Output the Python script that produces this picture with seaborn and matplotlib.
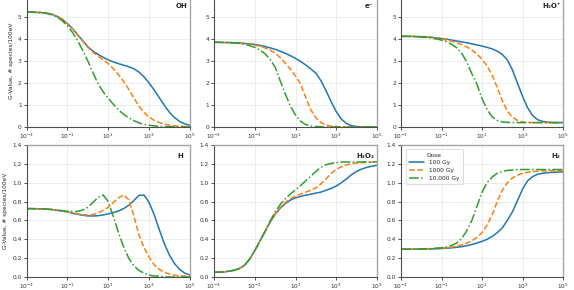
import numpy as np
import pandas as pd
import seaborn as sns
import matplotlib.pyplot as plt

# time grid, log10(seconds), quarter-decade steps
log_t = [-3, -2.75, -2.5, -2.25, -2, -1.75, -1.5, -1.25, -1, -0.75, -0.5, -0.25,
         0, 0.25, 0.5, 0.75, 1, 1.25, 1.5, 1.75, 2, 2.25, 2.5, 2.75,
         3, 3.25, 3.5, 3.75, 4, 4.25, 4.5, 4.75, 5]

doses = ["100 Gy", "1000 Gy", "10,000 Gy"]
species = ["OH", "e⁻", "H₃O⁺", "H", "H₂O₂", "H₂"]

# OH
oh_100 = [5.22, 5.22, 5.21, 5.2, 5.17, 5.12, 5.03, 4.9, 4.7, 4.47, 4.2, 3.92,
          3.65, 3.45, 3.3, 3.17, 3.05, 2.96, 2.88, 2.81, 2.74, 2.65, 2.5, 2.28,
          2.0, 1.68, 1.33, 0.98, 0.66, 0.42, 0.25, 0.14, 0.07]
oh_1000 = [5.22, 5.22, 5.21, 5.2, 5.17, 5.12, 5.03, 4.9, 4.7, 4.46, 4.18, 3.9,
           3.62, 3.4, 3.22, 3.05, 2.88, 2.65, 2.38, 2.07, 1.72, 1.32, 0.95, 0.66,
           0.45, 0.3, 0.2, 0.13, 0.08, 0.05, 0.03, 0.02, 0.01]
oh_10000 = [5.22, 5.22, 5.21, 5.19, 5.16, 5.1, 5.0, 4.83, 4.6, 4.3, 3.93, 3.48,
            3.0, 2.47, 1.97, 1.6, 1.3, 1.03, 0.78, 0.58, 0.42, 0.29, 0.19, 0.12,
            0.08, 0.05, 0.03, 0.02, 0.01, 0.01, 0.0, 0.0, 0.0]

# hydrated electron
e_100 = [3.85, 3.85, 3.84, 3.84, 3.83, 3.82, 3.8, 3.78, 3.75, 3.71, 3.66, 3.6,
         3.53, 3.44, 3.35, 3.24, 3.12, 2.98, 2.82, 2.64, 2.45, 2.1, 1.65, 1.15,
         0.7, 0.36, 0.16, 0.06, 0.02, 0.01, 0.0, 0.0, 0.0]
e_1000 = [3.85, 3.85, 3.84, 3.84, 3.83, 3.81, 3.79, 3.76, 3.72, 3.67, 3.6, 3.5,
          3.36, 3.15, 2.9, 2.63, 2.32, 1.95, 1.35, 0.78, 0.42, 0.2, 0.09, 0.04,
          0.02, 0.01, 0.0, 0.0, 0.0, 0.0, 0.0, 0.0, 0.0]
e_10000 = [3.85, 3.85, 3.84, 3.83, 3.82, 3.8, 3.76, 3.7, 3.62, 3.5, 3.33, 3.08,
           2.72, 2.1, 1.5, 0.95, 0.55, 0.26, 0.11, 0.05, 0.02, 0.01, 0.0, 0.0,
           0.0, 0.0, 0.0, 0.0, 0.0, 0.0, 0.0, 0.0, 0.0]

# H3O+
h3o_100 = [4.12, 4.12, 4.12, 4.11, 4.11, 4.1, 4.08, 4.05, 4.02, 3.99, 3.95, 3.91,
           3.87, 3.83, 3.78, 3.73, 3.68, 3.62, 3.55, 3.45, 3.3, 3.05, 2.6, 2.0,
           1.4, 0.88, 0.52, 0.33, 0.25, 0.22, 0.2, 0.2, 0.2]
h3o_1000 = [4.12, 4.12, 4.12, 4.11, 4.1, 4.09, 4.07, 4.04, 4.0, 3.95, 3.9, 3.83,
            3.75, 3.64, 3.5, 3.32, 3.08, 2.78, 2.35, 1.8, 1.2, 0.72, 0.45, 0.3,
            0.23, 0.21, 0.2, 0.2, 0.2, 0.2, 0.2, 0.2, 0.2]
h3o_10000 = [4.12, 4.12, 4.11, 4.1, 4.09, 4.07, 4.04, 4.0, 3.95, 3.87, 3.76, 3.6,
             3.35, 2.95, 2.42, 1.95, 1.3, 0.8, 0.46, 0.3, 0.23, 0.21, 0.2, 0.2,
             0.2, 0.2, 0.2, 0.2, 0.2, 0.2, 0.2, 0.2, 0.2]

# H
h_100 = [0.725, 0.725, 0.724, 0.722, 0.72, 0.715, 0.708, 0.7, 0.69, 0.677, 0.665, 0.655,
         0.648, 0.647, 0.65, 0.658, 0.67, 0.683, 0.7, 0.725, 0.76, 0.81, 0.865, 0.87,
         0.79, 0.66, 0.5, 0.35, 0.23, 0.14, 0.08, 0.04, 0.02]
h_1000 = [0.725, 0.725, 0.724, 0.722, 0.72, 0.715, 0.708, 0.7, 0.69, 0.68, 0.67, 0.66,
          0.657, 0.663, 0.68, 0.705, 0.74, 0.79, 0.84, 0.87, 0.82, 0.65, 0.45, 0.31,
          0.21, 0.13, 0.08, 0.05, 0.03, 0.02, 0.01, 0.01, 0.0]
h_10000 = [0.725, 0.725, 0.724, 0.722, 0.72, 0.716, 0.71, 0.703, 0.697, 0.694, 0.696, 0.71,
           0.74, 0.79, 0.845, 0.87, 0.8, 0.64, 0.47, 0.32, 0.2, 0.12, 0.07, 0.04,
           0.02, 0.01, 0.01, 0.0, 0.0, 0.0, 0.0, 0.0, 0.0]

# H2O2
h2o2_100 = [0.05, 0.051, 0.055, 0.062, 0.072, 0.09, 0.125, 0.19, 0.28, 0.38, 0.48, 0.58,
            0.665, 0.73, 0.78, 0.815, 0.84, 0.855, 0.868, 0.878, 0.89, 0.9, 0.92, 0.94,
            0.965, 1.0, 1.04, 1.085, 1.12, 1.145, 1.163, 1.175, 1.185]
h2o2_1000 = [0.05, 0.051, 0.055, 0.062, 0.072, 0.09, 0.125, 0.19, 0.28, 0.38, 0.48, 0.58,
             0.67, 0.74, 0.79, 0.83, 0.86, 0.88, 0.9, 0.92, 0.945, 0.99, 1.04, 1.1,
             1.14, 1.17, 1.19, 1.2, 1.21, 1.213, 1.216, 1.218, 1.22]
h2o2_10000 = [0.05, 0.051, 0.055, 0.062, 0.072, 0.09, 0.125, 0.19, 0.28, 0.38, 0.48, 0.59,
              0.69, 0.77, 0.83, 0.88, 0.925, 0.97, 1.02, 1.07, 1.12, 1.165, 1.19, 1.205,
              1.213, 1.218, 1.22, 1.22, 1.22, 1.22, 1.22, 1.22, 1.22]

# H2
h2_100 = [0.295, 0.295, 0.295, 0.295, 0.296, 0.297, 0.298, 0.3, 0.302, 0.305, 0.31, 0.315,
          0.322, 0.332, 0.345, 0.36, 0.378, 0.4, 0.43, 0.47, 0.52, 0.6, 0.69, 0.81,
          0.93, 1.02, 1.065, 1.09, 1.1, 1.107, 1.11, 1.113, 1.115]
h2_1000 = [0.295, 0.295, 0.295, 0.296, 0.297, 0.298, 0.3, 0.302, 0.305, 0.31, 0.317, 0.327,
           0.34, 0.36, 0.385, 0.42, 0.47, 0.55, 0.66, 0.8, 0.92, 1.0, 1.05, 1.08,
           1.1, 1.11, 1.118, 1.122, 1.125, 1.127, 1.128, 1.129, 1.13]
h2_10000 = [0.295, 0.295, 0.296, 0.297, 0.298, 0.3, 0.302, 0.305, 0.31, 0.32, 0.335, 0.36,
            0.41, 0.49, 0.6, 0.75, 0.9, 1.0, 1.06, 1.1, 1.12, 1.13, 1.135, 1.138,
            1.14, 1.14, 1.14, 1.14, 1.14, 1.14, 1.14, 1.14, 1.14]

series = {
    "OH": [oh_100, oh_1000, oh_10000],
    "e⁻": [e_100, e_1000, e_10000],
    "H₃O⁺": [h3o_100, h3o_1000, h3o_10000],
    "H": [h_100, h_1000, h_10000],
    "H₂O₂": [h2o2_100, h2o2_1000, h2o2_10000],
    "H₂": [h2_100, h2_1000, h2_10000],
}

rows = []
for sp in species:
    for dose, vals in zip(doses, series[sp]):
        for lt, v in zip(log_t, vals):
            rows.append((sp, dose, 10.0 ** lt, v))
df = pd.DataFrame(rows, columns=["species", "Dose", "time", "g"])

sns.set_style("whitegrid", {"axes.edgecolor": "0.25", "grid.color": "0.9",
                            "xtick.bottom": True, "ytick.left": True})
plt.rcParams["font.family"] = ["DejaVu Sans"]

palette = dict(zip(doses, ["#1f77b4", "#ff7f0e", "#2ca02c"]))
dashes = dict(zip(doses, ["", (3.7, 1.6), (6.4, 1.6, 1, 1.6)]))

fig = plt.figure(figsize=(5.74, 2.90), dpi=100)
lefts = [26.5 / 574, 214 / 574, 401 / 574]
widths = [163.5 / 574, 163 / 574, 162 / 574]
bottoms = [1 - 127 / 290, 1 - 277 / 290]
h = 132 / 290
label_x = [0.985, 0.975, 0.99, 0.955, 0.985, 0.98]

for i, sp in enumerate(species):
    r, c = divmod(i, 3)
    ax = fig.add_axes([lefts[c], bottoms[r], widths[c], h])
    sub = df[df["species"] == sp]
    sns.lineplot(data=sub, x="time", y="g", hue="Dose", style="Dose",
                 palette=palette, dashes=dashes, linewidth=1.1,
                 legend=(i == 5), ax=ax)
    ax.set_xscale("log")
    ax.set_xlim(1e-3, 1e5)
    ax.set_xticks([1e-3, 1e-1, 1e1, 1e3, 1e5])
    ax.xaxis.set_minor_locator(plt.NullLocator())
    if r == 0:
        ax.set_ylim(0, 6)
        ax.set_yticks([0, 1, 2, 3, 4, 5])
    else:
        ax.set_ylim(0, 1.4)
        ax.set_yticks(np.arange(0, 1.41, 0.2))
        ax.yaxis.set_major_formatter(plt.FormatStrFormatter("%.1f"))
    ax.tick_params(labelsize=4.2, length=2, width=0.6, pad=1.5, colors="0.2")
    ax.grid(True, linewidth=0.5, color="0.9")
    for s in ["left", "bottom"]:
        ax.spines[s].set_color("0.3")
        ax.spines[s].set_linewidth(0.8)
    for s in ["top", "right"]:
        ax.spines[s].set_color("0.65")
        ax.spines[s].set_linewidth(1.0)
    ax.set_xlabel("")
    if c == 0:
        ax.set_ylabel("G-Value, # species/100eV", fontsize=4.2, labelpad=3)
    else:
        ax.set_ylabel("")
    ax.text(label_x[i], 0.94, sp, transform=ax.transAxes, ha="right", va="top",
            fontsize=5, fontweight="bold")
    if i == 5:
        leg = ax.legend(title="Dose", loc="upper left", fontsize=4.2,
                        title_fontsize=4.2, frameon=True, handlelength=2.6,
                        borderpad=0.6, labelspacing=0.45, bbox_to_anchor=(0.01, 0.99))
        leg.get_frame().set_edgecolor("0.8")
        leg.get_frame().set_linewidth(0.6)

fig.savefig("out.png", dpi=100)
